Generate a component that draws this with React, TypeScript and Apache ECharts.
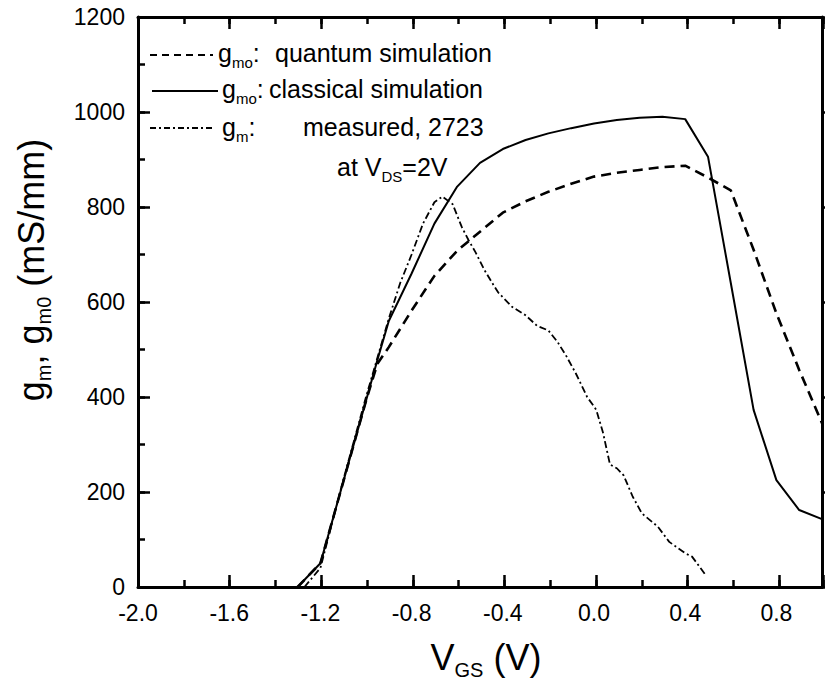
import React, { useEffect, useRef } from "react";
import * as echarts from "echarts";

// ---- data ----
const quantumV = [-1.3, -1.2, -1.1, -1.0, -0.95, -0.9, -0.8, -0.7, -0.6, -0.5, -0.4, -0.3, -0.2, -0.1, 0.0, 0.1, 0.2, 0.3, 0.4, 0.5, 0.6, 0.7, 0.8, 0.9, 1.0];
const quantumG = [0, 50, 221, 392, 470, 505, 582, 655, 708, 748, 788, 812, 832, 849, 864, 872, 878, 884, 887, 862, 835, 710, 576, 457, 345];

const classicalV = [-1.3, -1.2, -1.1, -1.0, -0.95, -0.9, -0.8, -0.7, -0.6, -0.5, -0.4, -0.3, -0.2, -0.1, 0.0, 0.1, 0.2, 0.3, 0.4, 0.5, 0.6, 0.7, 0.8, 0.9, 1.0];
const classicalG = [0, 50, 221, 392, 478, 560, 660, 765, 843, 893, 922, 941, 955, 966, 976, 983, 988, 990, 985, 906, 640, 373, 225, 162, 143];

const measuredV = [-1.27, -1.2, -1.1, -1.0, -0.9, -0.85, -0.8, -0.75, -0.7, -0.665, -0.62, -0.58, -0.55, -0.52, -0.48, -0.44, -0.42, -0.36, -0.3, -0.25, -0.2, -0.16, -0.12, -0.08, -0.03, 0.0, 0.01, 0.04, 0.07, 0.1, 0.13, 0.17, 0.21, 0.28, 0.33, 0.4, 0.43, 0.49];
const measuredG = [0, 40, 225, 400, 565, 640, 700, 765, 810, 822, 806, 758, 730, 705, 667, 635, 620, 590, 572, 550, 540, 516, 485, 450, 400, 380, 373, 324, 258, 250, 235, 190, 155, 127, 95, 71, 64, 25];

const xTicks = [-2.0, -1.6, -1.2, -0.8, -0.4, 0.0, 0.4, 0.8];
const yTicks = [0, 200, 400, 600, 800, 1000, 1200];

const X_MIN = -2;
const X_MAX = 1;
const Y_MIN = 0;
const Y_MAX = 1200;

const FONT = "'Liberation Sans', Arial, Helvetica, sans-serif";

const pairs = (xs: number[], ys: number[]) => xs.map((x, i) => [x, ys[i]]);

export default function App() {
  const ref = useRef<HTMLDivElement>(null);
  useEffect(() => {
    if (!ref.current) return;
    const chart = echarts.init(ref.current, undefined, { renderer: "svg" });

    const L = 138, R = -9, T = 17, B = 99;
    const BOTTOM_Y = 686 - B;
    const RIGHT_X = 825 - R;
    const MAJ = 12, MIN = 7;

    const line = { show: true, onZero: false, lineStyle: { color: "#000", width: 3 } };
    const tickLine = { show: true, lineStyle: { color: "#000", width: 2.5 } };

    // strip grids used to draw inward ticks (as split lines of the same scales)
    const grids = [
      { left: L, right: R, top: T, bottom: B },
      { left: L, right: R, top: BOTTOM_Y - MAJ, height: MAJ },
      { left: L, right: R, top: BOTTOM_Y - MIN, height: MIN },
      { left: L, right: R, top: T, height: MAJ },
      { left: L, right: R, top: T, height: MIN },
      { left: L, width: MAJ, top: T, bottom: B },
      { left: L, width: MIN, top: T, bottom: B },
      { left: RIGHT_X - MAJ, width: MAJ, top: T, bottom: B },
      { left: RIGHT_X - MIN, width: MIN, top: T, bottom: B },
    ];

    const hiddenAxis = (gridIndex: number) => ({ type: "value", gridIndex, show: false, min: 0, max: 1 });
    const xStrip = (gridIndex: number, interval: number) => ({
      type: "value",
      gridIndex,
      min: X_MIN,
      max: X_MAX,
      interval,
      axisLine: { show: false },
      axisTick: { show: false },
      axisLabel: { show: false },
      splitLine: tickLine,
    });
    const yStrip = (gridIndex: number, interval: number) => ({
      type: "value",
      gridIndex,
      min: Y_MIN,
      max: Y_MAX,
      interval,
      axisLine: { show: false },
      axisTick: { show: false },
      axisLabel: { show: false },
      splitLine: tickLine,
    });

    const legendRich = {
      a: { fontSize: 25, fontFamily: FONT, color: "#000", lineHeight: 33, verticalAlign: "middle" },
      s: { fontSize: 15, fontFamily: FONT, color: "#000", verticalAlign: "bottom" },
    };
    const titleRich = {
      v: { fontSize: 36, fontFamily: FONT, color: "#000", lineHeight: 46, verticalAlign: "middle" },
      s: { fontSize: 20, fontFamily: FONT, color: "#000", verticalAlign: "bottom" },
    };

    chart.setOption({
      animation: false,
      backgroundColor: "#fff",
      grid: grids,
      xAxis: [
        {
          type: "value",
          gridIndex: 0,
          min: X_MIN,
          max: X_MAX,
          interval: 0.4,
          position: "bottom",
          axisLine: line,
          axisTick: { show: false },
          splitLine: { show: false },
          axisLabel: {
            show: true,
            margin: 14,
            fontSize: 23,
            fontFamily: FONT,
            color: "#000",
            formatter: (v: number) => (xTicks.some((t) => Math.abs(t - v) < 1e-9) ? v.toFixed(1) : ""),
          },
        },
        {
          type: "value",
          gridIndex: 0,
          min: X_MIN,
          max: X_MAX,
          interval: 0.4,
          position: "top",
          axisLine: line,
          axisTick: { show: false },
          splitLine: { show: false },
          axisLabel: { show: false },
        },
        xStrip(1, 0.4),
        xStrip(2, 0.2),
        xStrip(3, 0.4),
        xStrip(4, 0.2),
        hiddenAxis(5),
        hiddenAxis(6),
        hiddenAxis(7),
        hiddenAxis(8),
      ],
      yAxis: [
        {
          type: "value",
          gridIndex: 0,
          min: Y_MIN,
          max: Y_MAX,
          interval: 200,
          position: "left",
          axisLine: line,
          axisTick: { show: false },
          splitLine: { show: false },
          axisLabel: {
            show: true,
            margin: 13,
            fontSize: 23,
            fontFamily: FONT,
            color: "#000",
            formatter: (v: number) => (yTicks.includes(v) ? String(v) : ""),
          },
        },
        {
          type: "value",
          gridIndex: 0,
          min: Y_MIN,
          max: Y_MAX,
          interval: 200,
          position: "right",
          axisLine: line,
          axisTick: { show: false },
          splitLine: { show: false },
          axisLabel: { show: false },
        },
        hiddenAxis(1),
        hiddenAxis(2),
        hiddenAxis(3),
        hiddenAxis(4),
        yStrip(5, 200),
        yStrip(6, 100),
        yStrip(7, 200),
        yStrip(8, 100),
      ],
      series: [
        {
          name: "quantum",
          type: "line",
          xAxisIndex: 0,
          yAxisIndex: 0,
          data: pairs(quantumV, quantumG),
          showSymbol: false,
          lineStyle: { color: "#000", width: 2.6, type: [10, 6] },
        },
        {
          name: "classical",
          type: "line",
          xAxisIndex: 0,
          yAxisIndex: 0,
          data: pairs(classicalV, classicalG),
          showSymbol: false,
          lineStyle: { color: "#000", width: 2, type: "solid" },
        },
        {
          name: "measured",
          type: "line",
          xAxisIndex: 0,
          yAxisIndex: 0,
          data: pairs(measuredV, measuredG),
          showSymbol: false,
          lineStyle: { color: "#000", width: 1.8, type: [7, 3, 2, 3] },
        },
      ],
      graphic: [
        // axis titles
        { type: "text", x: 486, y: 657, style: { text: "{v|V}{s|GS}{v| (V)}", rich: titleRich, align: "center", verticalAlign: "middle" } },
        {
          type: "text",
          x: 31,
          y: 270,
          rotation: Math.PI / 2,
          style: { text: "{v|g}{s|m}{v|, g}{s|m0}{v| (mS/mm)}", rich: titleRich, align: "center", verticalAlign: "middle" },
        },
        // legend
        { type: "line", shape: { x1: 150, y1: 55, x2: 213, y2: 55 }, style: { stroke: "#000", lineWidth: 2, lineDash: [7, 5] } },
        { type: "line", shape: { x1: 152, y1: 91, x2: 218, y2: 91 }, style: { stroke: "#000", lineWidth: 2 } },
        { type: "line", shape: { x1: 150, y1: 128, x2: 215, y2: 128 }, style: { stroke: "#000", lineWidth: 1.8, lineDash: [6, 3, 2, 3] } },
        { type: "text", x: 218, y: 53, style: { text: "{a|g}{s|mo}{a|:}", rich: legendRich, verticalAlign: "middle", align: "left" } },
        { type: "text", x: 275, y: 53, style: { text: "quantum simulation", font: `25px ${FONT}`, fill: "#000", verticalAlign: "middle", align: "left" } },
        { type: "text", x: 222, y: 89, style: { text: "{a|g}{s|mo}{a|:}", rich: legendRich, verticalAlign: "middle", align: "left" } },
        { type: "text", x: 269, y: 89, style: { text: "classical simulation", font: `25px ${FONT}`, fill: "#000", verticalAlign: "middle", align: "left" } },
        { type: "text", x: 222, y: 127, style: { text: "{a|g}{s|m}{a|:}", rich: legendRich, verticalAlign: "middle", align: "left" } },
        { type: "text", x: 303, y: 127, style: { text: "measured, 2723", font: `25px ${FONT}`, fill: "#000", verticalAlign: "middle", align: "left" } },
        { type: "text", x: 337, y: 167, style: { text: "{a|at V}{s|DS}{a|=2V}", rich: legendRich, verticalAlign: "middle", align: "left" } },
      ],
    });
    return () => chart.dispose();
  }, []);
  return (
    <div
      ref={ref}
      style={{ position: "fixed", left: 0, top: 0, width: 825, height: 686, background: "#fff" }}
    />
  );
}
